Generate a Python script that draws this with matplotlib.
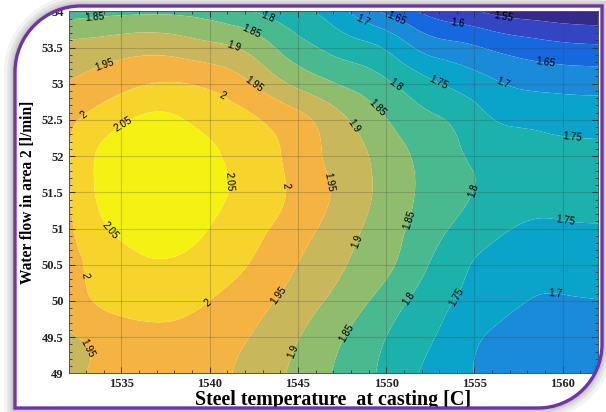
import numpy as np
import matplotlib
matplotlib.use("Agg")
import matplotlib.pyplot as plt
import matplotlib.tri as mtri
from matplotlib.path import Path
from matplotlib.patches import PathPatch
from matplotlib.colors import ListedColormap, BoundaryNorm
from matplotlib.ticker import MultipleLocator

# ---------------- data ----------------
temperature = [1532, 1534, 1536, 1538, 1540, 1542, 1544, 1546,
               1548, 1550, 1552, 1554, 1556, 1558, 1560, 1562]
water_flow = [49.0, 49.5, 50.0, 50.5, 51.0, 51.5, 52.0, 52.5, 53.0, 53.5, 54.0]

z_490 = [1.928, 1.966, 1.975, 1.975, 1.963, 1.940, 1.906, 1.868, 1.828, 1.788, 1.747, 1.712, 1.690, 1.672, 1.665, 1.664]
z_495 = [1.945, 1.965, 1.980, 1.982, 1.970, 1.953, 1.921, 1.883, 1.842, 1.800, 1.763, 1.728, 1.693, 1.680, 1.673, 1.672]
z_500 = [1.972, 2.010, 2.025, 2.022, 2.000, 1.973, 1.945, 1.909, 1.872, 1.828, 1.783, 1.748, 1.725, 1.700, 1.696, 1.699]
z_505 = [1.985, 2.020, 2.043, 2.045, 2.030, 2.003, 1.967, 1.932, 1.896, 1.861, 1.811, 1.764, 1.735, 1.722, 1.717, 1.718]
z_510 = [1.990, 2.045, 2.070, 2.070, 2.049, 2.020, 1.990, 1.952, 1.913, 1.872, 1.832, 1.792, 1.765, 1.742, 1.742, 1.745]
z_515 = [1.995, 2.062, 2.080, 2.080, 2.064, 2.037, 2.006, 1.967, 1.926, 1.883, 1.843, 1.811, 1.790, 1.778, 1.772, 1.770]
z_520 = [1.996, 2.062, 2.078, 2.078, 2.060, 2.031, 2.001, 1.958, 1.920, 1.878, 1.839, 1.806, 1.785, 1.772, 1.765, 1.763]
z_525 = [1.992, 2.025, 2.056, 2.056, 2.034, 2.012, 1.983, 1.945, 1.897, 1.852, 1.815, 1.790, 1.752, 1.740, 1.734, 1.731]
z_530 = [1.953, 1.975, 1.995, 2.003, 1.990, 1.960, 1.910, 1.870, 1.839, 1.808, 1.768, 1.737, 1.708, 1.690, 1.684, 1.682]
z_535 = [1.913, 1.923, 1.934, 1.930, 1.914, 1.892, 1.842, 1.802, 1.773, 1.744, 1.689, 1.665, 1.643, 1.625, 1.613, 1.608]
z_540 = [1.825, 1.835, 1.840, 1.840, 1.830, 1.806, 1.776, 1.748, 1.695, 1.640, 1.595, 1.565, 1.540, 1.525, 1.515, 1.510]

levels = [1.40, 1.55, 1.60, 1.65, 1.70, 1.75, 1.80, 1.85, 1.90, 1.95, 2.00, 2.05, 2.20]
label_levels = [1.55, 1.60, 1.65, 1.70, 1.75, 1.80, 1.85, 1.90, 1.95, 2.00, 2.05]

x_ticks = [1535, 1540, 1545, 1550, 1555, 1560]
y_ticks = [49, 49.5, 50, 50.5, 51, 51.5, 52, 52.5, 53, 53.5, 54]

band_colors = ['#37298a', '#3445c4', '#1668de', '#1a8bd8', '#0aa3ca', '#1cb1ab',
               '#49b98f', '#90bd6d', '#c9b75b', '#f5b441', '#f6d42b', '#f5f113']

label_spots = [
    (1556.6, 53.86), (1554.0, 53.77), (1550.5, 53.86), (1559.0, 53.23),
    (1548.55, 53.81), (1556.6, 53.0), (1559.6, 50.1),
    (1552.9, 53.0), (1560.5, 52.13), (1560.2, 51.19), (1554.0, 50.04),
    (1543.3, 53.92), (1550.5, 52.98), (1554.7, 51.55), (1551.2, 50.04),
    (1533.5, 53.88), (1542.3, 53.68), (1549.6, 52.69), (1551.3, 51.12), (1547.7, 49.57),
    (1541.35, 53.49), (1548.1, 52.41), (1548.37, 50.82), (1544.7, 49.3),
    (1534.0, 53.28), (1542.6, 53.03), (1546.85, 51.65), (1543.9, 50.08), (1532.6, 49.28),
    (1532.5, 52.67), (1540.7, 52.84), (1544.3, 51.6), (1539.9, 49.97), (1532.7, 50.34),
    (1535.1, 52.43), (1541.0, 51.65), (1534.2, 50.93),
]

# ---------------- figure ----------------
W, H = 606, 412
fig = plt.figure(figsize=(W / 100, H / 100), dpi=100)
fig.patch.set_facecolor('white')

ax = fig.add_axes([68.5 / W, 1 - 373.3 / H, (598 - 68.5) / W, (373.3 - 11.3) / H])

Z = np.array([z_490, z_495, z_500, z_505, z_510, z_515, z_520, z_525, z_530, z_535, z_540])
nx, ny = len(temperature), len(water_flow)

# triangulate the read grid (index space) and let matplotlib's refiner smooth it
ii, jj = np.meshgrid(np.arange(nx, dtype=float), np.arange(ny, dtype=float))
tris = []
for j in range(ny - 1):
    for i in range(nx - 1):
        a = j * nx + i
        tris.append([a, a + 1, a + nx + 1])
        tris.append([a, a + nx + 1, a + nx])
tri_idx = mtri.Triangulation(ii.ravel(), jj.ravel(), np.array(tris))
refiner = mtri.UniformTriRefiner(tri_idx)
tri_fine, z_fine = refiner.refine_field(Z.ravel(), subdiv=3)
fx = np.interp(tri_fine.x, np.arange(nx), temperature)
fy = np.interp(tri_fine.y, np.arange(ny), water_flow)
tri_data = mtri.Triangulation(fx, fy, tri_fine.triangles)

cmap = ListedColormap(band_colors)
norm = BoundaryNorm(levels, cmap.N)
ax.tricontourf(tri_data, z_fine, levels=levels, cmap=cmap, norm=norm, antialiased=True)
cs = ax.tricontour(tri_data, z_fine, levels=label_levels, colors='k', linewidths=0)
labs = ax.clabel(cs, inline=True, fontsize=7.2, fmt='%g', colors='k', manual=label_spots)
for t in labs:
    t.set_fontfamily('Liberation Sans')

ax.set_xlim(1532, 1562)
ax.set_ylim(49, 54)
ax.set_xticks(x_ticks)
ax.set_yticks(y_ticks)
ax.set_yticklabels(['%g' % v for v in y_ticks])
ax.xaxis.set_minor_locator(MultipleLocator(1))
ax.yaxis.set_minor_locator(MultipleLocator(0.1))
ax.tick_params(which='both', direction='in', top=True, right=True, color='#333333')
ax.tick_params(which='major', length=4.5, width=0.7, pad=3.5)
ax.tick_params(which='minor', length=2.5, width=0.6)
ax.grid(True, which='major', color='#404040', alpha=0.25, linewidth=0.8)
for lab in ax.get_xticklabels() + ax.get_yticklabels():
    lab.set_fontfamily('Liberation Serif')
    lab.set_fontweight('bold')
    lab.set_fontsize(9)
    lab.set_color('#222222')
for sp in ax.spines.values():
    sp.set_color('#555555')
    sp.set_linewidth(0.7)

ax.set_xlabel('Steel temperature  at casting [C]', fontfamily='Liberation Serif',
              fontweight='bold', fontsize=14.4, labelpad=0)
ax.set_ylabel('Water flow in area 2 [l/min]', fontfamily='Liberation Serif',
              fontweight='bold', fontsize=11.2, labelpad=4.5)

# ---------------- decorative frame ----------------
ov = fig.add_axes([0, 0, 1, 1], zorder=10)
ov.set_xlim(0, W)
ov.set_ylim(H, 0)
ov.axis('off')

L, T, R, B = 15.0, 6.0, 602.0, 408.0
r1, r2 = 66.0, 64.0
k = 0.5523
verts = [(L, B), (L, T + r1),
         (L, T + r1 * (1 - k)), (L + r1 * (1 - k), T), (L + r1, T),
         (R, T), (R, B - r2),
         (R, B - r2 * (1 - k)), (R - r2 * (1 - k), B), (R - r2, B),
         (L, B), (L, B)]
codes = [Path.MOVETO, Path.LINETO,
         Path.CURVE4, Path.CURVE4, Path.CURVE4,
         Path.LINETO, Path.LINETO,
         Path.CURVE4, Path.CURVE4, Path.CURVE4,
         Path.LINETO, Path.CLOSEPOLY]
inner = Path(verts, codes)
outer = Path([(-20, -20), (-20, H + 20), (W + 20, H + 20), (W + 20, -20), (-20, -20)],
             [Path.MOVETO, Path.LINETO, Path.LINETO, Path.LINETO, Path.CLOSEPOLY])
mask_path = Path.make_compound_path(outer, inner)
mask = PathPatch(mask_path, facecolor='white', edgecolor='none')
ov.add_patch(mask)
for lw, a in [(16, 0.07), (11, 0.09), (7, 0.11), (4, 0.14)]:
    sh = PathPatch(inner, facecolor='none', edgecolor='#555555', linewidth=lw, alpha=a)
    ov.add_patch(sh)
    sh.set_clip_path(mask)
ov.add_patch(PathPatch(inner, facecolor='none', edgecolor='#7232a8', linewidth=2.4))

fig.savefig('out.png', dpi=100)
